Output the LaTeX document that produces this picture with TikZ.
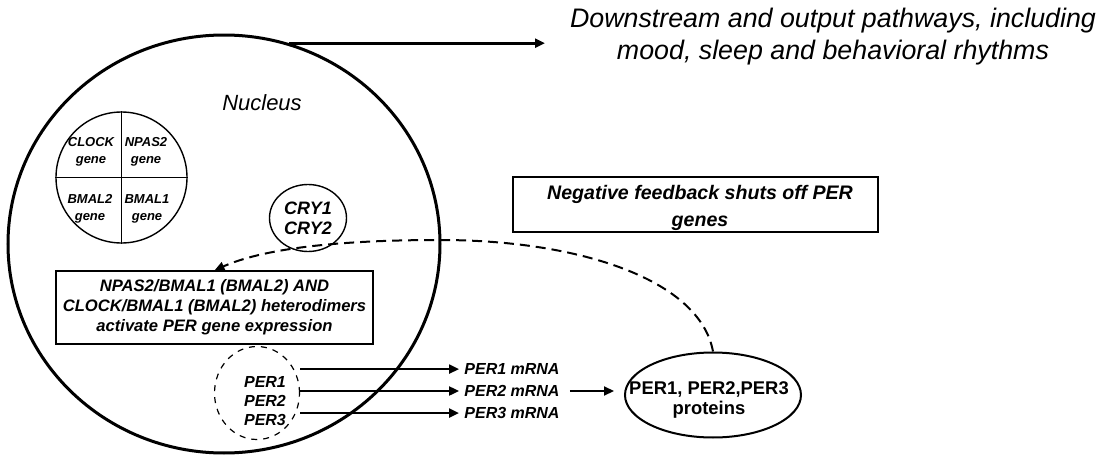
\documentclass[tikz,border=0pt]{standalone}
\usepackage{fontspec}
\setmainfont{Liberation Sans}
\usetikzlibrary{shapes.geometric, positioning, arrows.meta}

\begin{document}
\begin{tikzpicture}[%
    x=0.5pt, y=-0.5pt,
    >={Triangle[length=5pt,width=4.5pt]},
    gene/.style={inner sep=0pt, align=center, font=\fontsize{6.5}{8.5}\selectfont\bfseries\itshape},
    labelbox/.style={draw, line width=0.6pt, align=center, font=\fontsize{8.3}{10}\selectfont\bfseries\itshape},
    mrna/.style={inner sep=2.5pt, font=\fontsize{8}{9.5}\selectfont\bfseries\itshape},
    flow/.style={->, line width=1.1pt},
    feedback/.style={->, dashed, line width=1pt, dash pattern=on 5pt off 3pt}
  ]
  \useasboundingbox (0,0) rectangle (1105,455);

  % nucleus and outer arrow
  \node[draw, ellipse, line width=1.5pt, minimum width=216pt, minimum height=209pt] at (224,244) (nucleus) {};
  \node[font=\fontsize{11}{13}\selectfont\itshape] at (262,103) (nucleus_lbl) {Nucleus};
  \coordinate (out_end) at (545,45);
  \draw[->, line width=1.5pt] (nucleus.72) -- (nucleus.72 -| out_end);
  \node[align=center, font=\fontsize{13.4}{16}\selectfont\itshape] at (833,37) (downstream)
    {Downstream and output pathways, including\\mood, sleep and behavioral rhythms};

  % clock genes
  \node[draw, circle, line width=0.7pt, minimum size=65.5pt, inner sep=0pt] at (121.5,177.5) (genes) {};
  \draw[line width=0.7pt] (genes.north) -- (genes.south);
  \draw[line width=0.7pt] (genes.west) -- (genes.east);
  \node[gene] at (91,152) (clock) {CLOCK\\gene};
  \node[gene] at (146,152) (npas2) {NPAS2\\gene};
  \node[gene] at (90,209) (bmal2) {BMAL2\\gene};
  \node[gene] at (147,209) (bmal1) {BMAL1\\gene};

  % cryptochromes
  \node[draw, ellipse, line width=0.7pt, minimum width=38.5pt, minimum height=33.5pt, inner sep=0pt,
        align=center, font=\fontsize{9}{10}\selectfont\bfseries\itshape] at (308,218) (cry) {CRY1\\CRY2};

  % boxes
  \node[labelbox, minimum width=158.5pt, minimum height=36.5pt] at (214.5,307.5) (act)
    {NPAS2/BMAL1 (BMAL2) AND\\CLOCK/BMAL1 (BMAL2) heterodimers\\activate PER gene expression};
  \node[labelbox, minimum width=182.5pt, minimum height=27.5pt] at (695.5,204.5) (neg) {};
  \node[align=center, font=\fontsize{9.8}{13.5}\selectfont\bfseries\itshape] at (700,208) (neg_lbl)
    {Negative feedback shuts off PER\\genes};

  % PER genes, mRNA and proteins
  \node[draw, ellipse, dashed, line width=0.6pt, minimum width=42.5pt, minimum height=46.5pt] at (257,393) (per_genes) {};
  \node[align=center, inner sep=0pt, font=\fontsize{8}{9.6}\selectfont\bfseries\itshape] at (265,401) (per_lbl)
    {PER1\\PER2\\PER3};
  \node[mrna] at (512,391) (mrna_2) {PER2 mRNA};
  \node[mrna, above=0pt of mrna_2] (mrna_1) {PER1 mRNA};
  \node[mrna, below=0pt of mrna_2] (mrna_3) {PER3 mRNA};
  \node[draw, ellipse, line width=1pt, minimum width=88pt, minimum height=42.5pt, inner sep=0pt] at (713,395) (prot) {};
  \node[align=center, inner sep=0pt, font=\fontsize{9.2}{10}\selectfont\bfseries] at (709,400) (prot_lbl)
    {PER1, PER2,PER3\\proteins};

  \draw[flow] (per_genes.east |- mrna_1.west) -- (mrna_1.west);
  \draw[flow] (per_genes.east |- mrna_2.west) -- (mrna_2.west);
  \draw[flow] (per_genes.east |- mrna_3.west) -- (mrna_3.west);
  \draw[flow, shorten <=2.5pt, shorten >=5pt] (mrna_2.east) -- (mrna_2.east -| prot.west);

  % feedback loop
  \coordinate (fb_mid) at (440,240);
  \draw[feedback] (prot.north) .. controls (700,280) and (580,240) .. (fb_mid)
                  .. controls (330,240) and (260,250) .. (act.north);
\end{tikzpicture}
\end{document}
